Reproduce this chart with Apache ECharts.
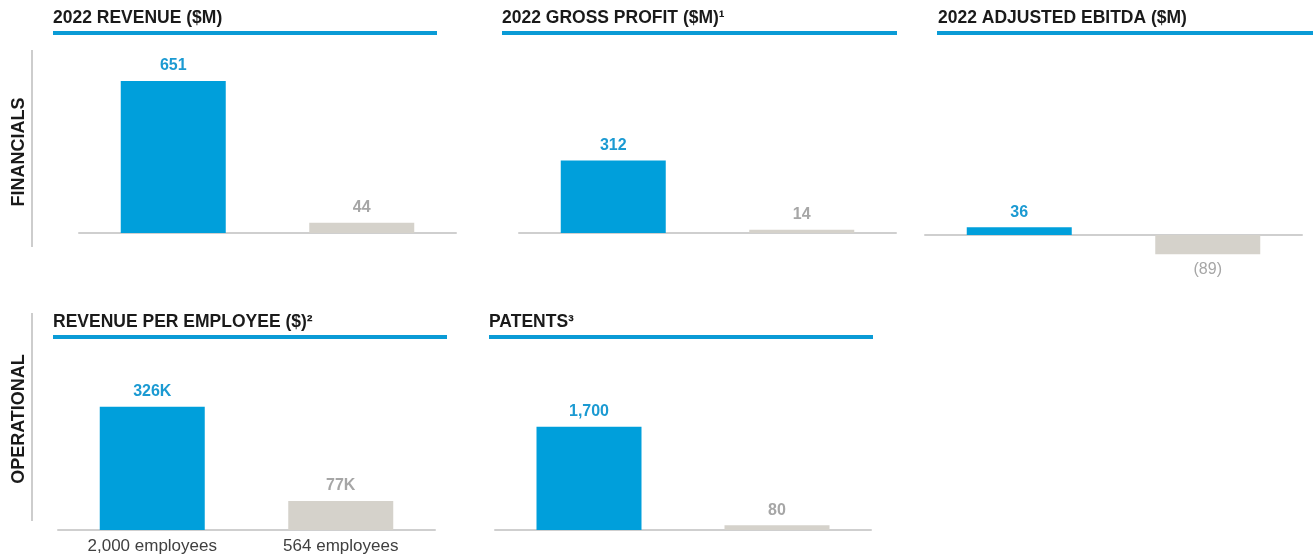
<!DOCTYPE html>
<html>
<head>
<meta charset="utf-8">
<script src="https://cdn.jsdelivr.net/npm/echarts@6.0.0/dist/echarts.min.js"></script>
<style>
  html, body { margin: 0; padding: 0; background: #ffffff; }
  #chart { width: 1313px; height: 558px; }
</style>
</head>
<body>
<div id="chart"></div>
<script>
// Company vs. peer comparison: one small bar panel per metric
const revenueCategories = ['Company', 'Peer'];
const revenueValues = [651, 44];            // $M
const grossProfitCategories = ['Company', 'Peer'];
const grossProfitValues = [312, 14];        // $M
const ebitdaCategories = ['Company', 'Peer'];
const ebitdaValues = [36, -89];             // $M
const revPerEmployeeCategories = ['2,000 employees', '564 employees'];
const revPerEmployeeValues = [326, 77];     // $K
const patentCategories = ['Company', 'Peer'];
const patentValues = [1700, 80];

const panelTitles = [
  '2022 REVENUE ($M)',
  '2022 GROSS PROFIT ($M)¹',
  '2022 ADJUSTED EBITDA ($M)',
  'REVENUE PER EMPLOYEE ($)²',
  'PATENTS³'
];
const sectionLabels = ['FINANCIALS', 'OPERATIONAL'];

const FONT = '"Liberation Sans", Arial, Helvetica, sans-serif';
const BLUE = '#009fdb';
const BLUE_TEXT = '#1b9ad2';
const GREY = '#d5d2cb';
const GREY_TEXT = '#a6a6a6';
const RULE_BLUE = '#0a9bd6';

// Panel geometry: plot area, baseline and pixel-per-unit scale of each panel
const panels = [
  { cats: revenueCategories, vals: revenueValues, fmt: v => String(v),
    left: 79, width: 377, base: 233, ppu: 0.2335, min: 0, max: 700,
    titleX: 53, titleY: 18, ruleX1: 53, ruleX2: 437, ruleY: 33, showCats: false },
  { cats: grossProfitCategories, vals: grossProfitValues, fmt: v => String(v),
    left: 519, width: 377, base: 233, ppu: 0.2325, min: 0, max: 700,
    titleX: 502, titleY: 18, ruleX1: 502, ruleX2: 897, ruleY: 33, showCats: false },
  { cats: ebitdaCategories, vals: ebitdaValues, fmt: v => (v < 0 ? '(' + (-v) + ')' : String(v)),
    left: 925, width: 377, base: 235, ppu: 0.215, min: -120, max: 600,
    titleX: 938, titleY: 18, ruleX1: 937, ruleX2: 1313, ruleY: 33, showCats: false },
  { cats: revPerEmployeeCategories, vals: revPerEmployeeValues, fmt: v => v + 'K',
    left: 58, width: 377, base: 530, ppu: 0.378, min: 0, max: 400,
    titleX: 53, titleY: 322, ruleX1: 53, ruleX2: 447, ruleY: 337, showCats: true },
  { cats: patentCategories, vals: patentValues, fmt: v => v.toLocaleString('en-US'),
    left: 495, width: 376, base: 530, ppu: 0.0608, min: 0, max: 2000,
    titleX: 489, titleY: 322, ruleX1: 489, ruleX2: 873, ruleY: 337, showCats: false }
];

const grids = [], xAxes = [], yAxes = [], series = [], titles = [], graphics = [];

panels.forEach((p, i) => {
  grids.push({
    left: p.left,
    width: p.width,
    top: p.base - p.max * p.ppu,
    height: (p.max - p.min) * p.ppu,
    containLabel: false
  });
  xAxes.push({
    type: 'category',
    gridIndex: i,
    data: p.cats,
    axisLine: { show: true, onZero: true, lineStyle: { color: '#cfcfcf', width: 2 } },
    axisTick: { show: false },
    axisLabel: { show: p.showCats, color: '#404040', fontSize: 17, fontFamily: FONT, margin: 8 },
    splitLine: { show: false }
  });
  yAxes.push({ type: 'value', gridIndex: i, min: p.min, max: p.max, show: false });
  series.push({
    type: 'bar',
    xAxisIndex: i,
    yAxisIndex: i,
    barWidth: 105,
    silent: true,
    animation: false,
    data: p.vals.map((v, j) => ({
      value: v,
      itemStyle: { color: j === 0 ? BLUE : GREY },
      label: {
        position: v < 0 ? 'bottom' : 'top',
        color: j === 0 ? BLUE_TEXT : GREY_TEXT,
        fontWeight: v < 0 ? 'normal' : 'bold'
      }
    })),
    label: {
      show: true,
      distance: 7,
      fontSize: 16,
      fontWeight: 'bold',
      fontFamily: FONT,
      formatter: params => p.fmt(params.value)
    }
  });
  titles.push({
    text: panelTitles[i],
    left: p.titleX,
    top: p.titleY - 10,
    padding: 0,
    textStyle: { color: '#1a1a1a', fontSize: 17.5, fontWeight: 'bold', fontFamily: FONT, lineHeight: 20 }
  });
  graphics.push({
    type: 'rect',
    silent: true,
    shape: { x: p.ruleX1, y: p.ruleY - 2, width: p.ruleX2 - p.ruleX1, height: 4 },
    style: { fill: RULE_BLUE }
  });
});

// Section dividers and rotated section labels
[[50, 247, 152], [313, 521, 419]].forEach(([y1, y2, yc], k) => {
  graphics.push({
    type: 'line',
    silent: true,
    shape: { x1: 32, y1: y1, x2: 32, y2: y2 },
    style: { stroke: '#bdbdbd', lineWidth: 1.5 }
  });
  graphics.push({
    type: 'text',
    silent: true,
    x: 19,
    y: yc,
    rotation: Math.PI / 2,
    style: {
      text: sectionLabels[k],
      fill: '#1a1a1a',
      font: 'bold 18px ' + FONT,
      textAlign: 'center',
      textVerticalAlign: 'middle'
    }
  });
});

const chart = echarts.init(document.getElementById('chart'), null, { renderer: 'canvas' });
chart.setOption({
  animation: false,
  backgroundColor: '#ffffff',
  title: titles,
  grid: grids,
  xAxis: xAxes,
  yAxis: yAxes,
  series: series,
  graphic: graphics
});
</script>
</body>
</html>
